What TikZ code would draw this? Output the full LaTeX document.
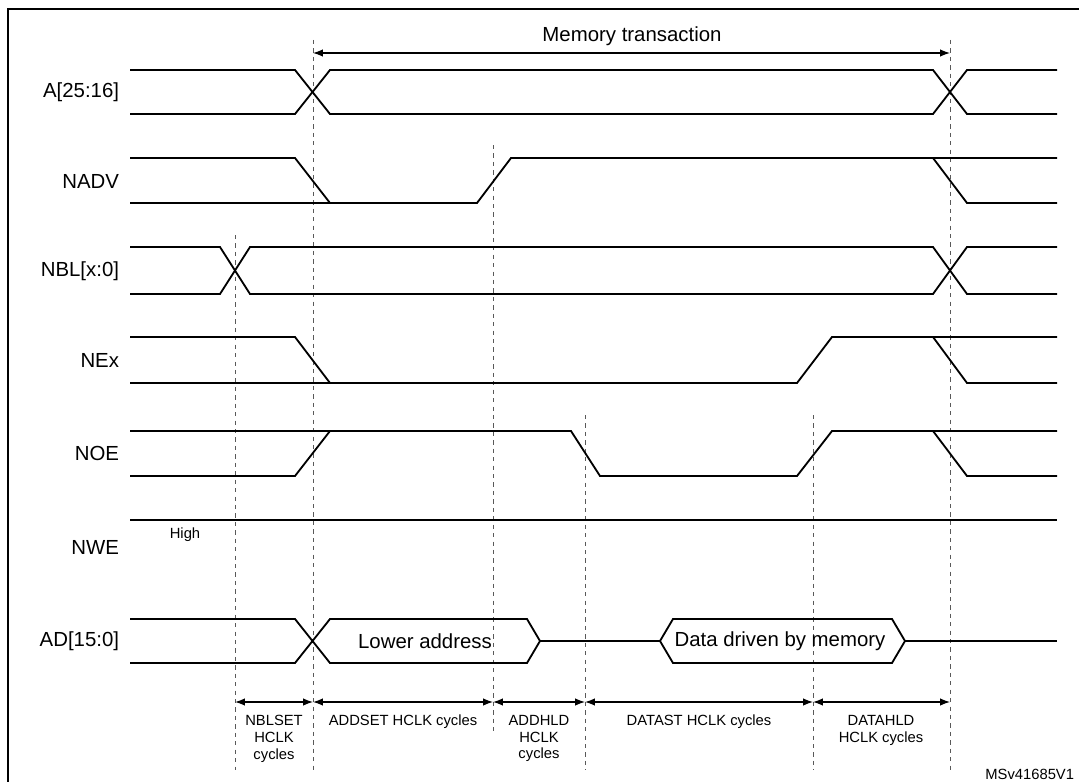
\documentclass[tikz,border=0pt]{standalone}
\usepackage{fontspec}
\setmainfont{Liberation Sans}
\usetikzlibrary{arrows.meta}
\begin{document}
\begin{tikzpicture}[
		x=0.025cm, y=-0.025cm,
		wave/.style={line width=1.3pt},
		guide/.style={dashed, gray!70!black, line width=0.7pt},
		arrow/.style={Latex-Latex, line width=0.9pt},
		signal/.style={anchor=east, font=\fontsize{14.5}{16}\selectfont},
		phase/.style={align=center, anchor=north, font=\fontsize{10.5}{12}\selectfont},
	]
		\useasboundingbox (0,0) rectangle (1079,782);
		\draw[line width=1.3pt] (8,9) rectangle (1090,800);

		% signal names
		\node[signal] (sa) at (124,92) {A[25:16]};
		\node[signal] (sadv) at (124,181) {NADV};
		\node[signal] (sbl) at (124,271) {NBL[x:0]};
		\node[signal] (sex) at (124,360) {NEx};
		\node[signal] (soe) at (124,453) {NOE};
		\node[signal] (swe) at (124,547) {NWE};
		\node[signal] (sad) at (124,641) {AD[15:0]};
		\node[font=\fontsize{10.5}{12}\selectfont] (high) at (185,535) {High};

		% guides
		\draw[guide] (235,235) -- (235,770);
		\draw[guide] (313,40) -- (313,770);
		\draw[guide] (493,145) -- (493,735);
		\draw[guide] (585,415) -- (585,770);
		\draw[guide] (813,415) -- (813,770);
		\draw[guide] (950,40) -- (950,770);

		% A[25:16]
		\draw[wave] (130,70) -- (295,70) -- (330,114) -- (933,114) -- (967,70) -- (1057,70);
		\draw[wave] (130,114) -- (295,114) -- (330,70) -- (933,70) -- (967,114) -- (1057,114);
		% NADV
		\draw[wave] (130,158) -- (295,158) -- (330,203) -- (477,203) -- (511,158) -- (1057,158);
		\draw[wave] (130,203) -- (330,203);
		\draw[wave] (933,158) -- (967,203) -- (1057,203);
		% NBL
		\draw[wave] (130,247) -- (220,247) -- (250,294) -- (933,294) -- (967,247) -- (1057,247);
		\draw[wave] (130,294) -- (220,294) -- (250,247) -- (933,247) -- (967,294) -- (1057,294);
		% NEx
		\draw[wave] (130,337) -- (295,337) -- (330,383);
		\draw[wave] (130,383) -- (797,383) -- (832,337) -- (1057,337);
		\draw[wave] (933,337) -- (967,383) -- (1057,383);
		% NOE
		\draw[wave] (130,431) -- (571,431) -- (600,476) -- (797,476) -- (832,431) -- (1057,431);
		\draw[wave] (130,476) -- (295,476) -- (330,431);
		\draw[wave] (933,431) -- (967,476) -- (1057,476);
		% NWE
		\draw[wave] (130,520) -- (1057,520);
		% AD[15:0]
		\draw[wave] (130,619) -- (295,619) -- (330,663) -- (527,663) -- (540,641) -- (527,619) -- (330,619) -- (295,663) -- (130,663);
		\draw[wave] (540,641) -- (660,641) -- (673,619) -- (892,619) -- (905,641) -- (892,663) -- (673,663) -- (660,641);
		\draw[wave] (905,641) -- (1057,641);
		\node[font=\fontsize{14.5}{16}\selectfont] (lower) at (425,641) {Lower address};
		\node[font=\fontsize{14.5}{16}\selectfont] (data) at (780,641) {Data driven by memory};

		% phases
		\coordinate (t0) at (235,702);
		\coordinate (t1) at (313,702);
		\coordinate (t2) at (493,702);
		\coordinate (t3) at (585,702);
		\coordinate (t4) at (813,702);
		\coordinate (t5) at (950,702);
		\draw[arrow] (t0) -- (t1);
		\draw[arrow] (t1) -- (t2);
		\draw[arrow] (t2) -- (t3);
		\draw[arrow] (t3) -- (t4);
		\draw[arrow] (t4) -- (t5);
		\node[phase] (nblset) at (274,710) {NBLSET\\HCLK\\cycles};
		\node[phase] (addset) at (403,710) {ADDSET HCLK cycles};
		\node[phase] (addhld) at (539,710) {ADDHLD\\HCLK\\cycles};
		\node[phase] (datast) at (699,710) {DATAST HCLK cycles};
		\node[phase] (datahld) at (881,710) {DATAHLD\\HCLK cycles};

		\coordinate (m0) at (313,53);
		\coordinate (m1) at (950,53);
		\draw[arrow] (m0) -- (m1);
		\node[font=\fontsize{14.5}{16}\selectfont] (memtr) at (632,36) {Memory transaction};
		\node[anchor=east, font=\fontsize{10.5}{12}\selectfont] (code) at (1079,774) {MSv41685V1};
	\end{tikzpicture}
\end{document}
